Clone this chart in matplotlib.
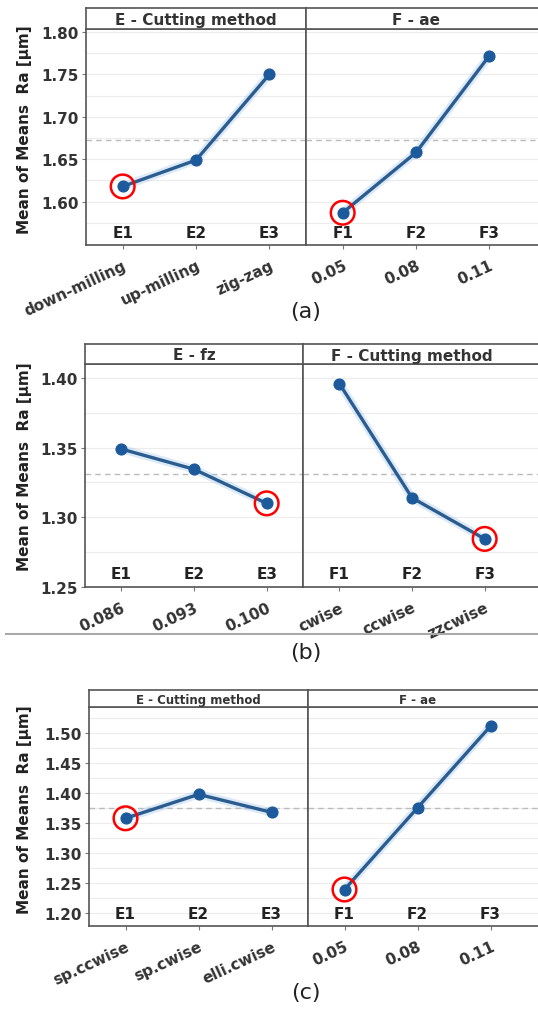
import numpy as np
import matplotlib
matplotlib.use("Agg")
import matplotlib.pyplot as plt
import matplotlib.transforms as mtransforms

plt.rcParams['font.family'] = ['DejaVu Sans']

W, H = 538, 1012

# ---- data ----
a_E_vals = [1.618, 1.649, 1.750]
a_F_vals = [1.587, 1.658, 1.772]
a_E_ticks = ["down-milling", "up-milling", "zig-zag"]
a_F_ticks = ["0.05", "0.08", "0.11"]
a_strips = ["E - Cutting method", "F - ae"]

b_E_vals = [1.349, 1.3345, 1.310]
b_F_vals = [1.396, 1.314, 1.2845]
b_E_ticks = ["0.086", "0.093", "0.100"]
b_F_ticks = ["cwise", "ccwise", "zzcwise"]
b_strips = ["E - fz", "F - Cutting method"]

c_E_vals = [1.358, 1.398, 1.368]
c_F_vals = [1.239, 1.3755, 1.512]
c_E_ticks = ["sp.ccwise", "sp.cwise", "elli.cwise"]
c_F_ticks = ["0.05", "0.08", "0.11"]
c_strips = ["E - Cutting method", "F - ae"]

E_levels = ["E1", "E2", "E3"]
F_levels = ["F1", "F2", "F3"]

LINE = "#2b5c8f"
DOT = "#1d5a9c"
TXT = "#333333"


def px(l, t, w, h):
    return [l / W, 1 - (t + h) / H, w / W, h / H]


def draw_group(fig, left, div, right, s_top, s_bot, bottom, ylim, yticks,
               e_vals, f_vals, e_ticks, f_ticks, strips, levels_y, strip_fs,
               ylab_y, cap, cap_y):
    unit = (div - left) / 3.0
    grand = np.mean(e_vals)
    specs = [(left, div, e_vals, e_ticks, E_levels, strips[0]),
             (div, right, f_vals, f_ticks, F_levels, strips[1])]
    for j, (x0, x1, vals, ticks, levels, title) in enumerate(specs):
        ax = fig.add_axes(px(x0, s_bot, x1 - x0, bottom - s_bot))
        xr = -0.5 + (x1 - x0) / unit
        ax.set_xlim(-0.5, xr)
        ax.set_ylim(*ylim)
        minor = np.arange(yticks[0] - 0.025, yticks[-1] + 0.03, 0.025)
        for yy in minor:
            ax.axhline(yy, color="#ececec", lw=0.8, zorder=0)
        ax.axhline(grand, color="#bbbbbb", lw=1.0, ls=(0, (4, 3)), zorder=1)
        x = np.arange(3)
        ax.plot(x, vals, color="#9cc3ec", lw=6, alpha=0.35, zorder=2,
                solid_capstyle="round")
        ax.plot(x, vals, color=LINE, lw=2.4, zorder=3)
        ax.scatter(x, vals, s=60, color=DOT, zorder=4)
        k = int(np.argmin(vals))
        ax.scatter([x[k]], [vals[k]], s=290, facecolors="none",
                   edgecolors="red", linewidths=1.8, zorder=5)
        trans = mtransforms.blended_transform_factory(ax.transData, ax.transAxes)
        for i, lv in enumerate(levels):
            ax.text(i, levels_y, lv, transform=trans, ha="center", va="center",
                    fontsize=11, fontweight="bold", color="#222222")
        ax.set_xticks(x)
        ax.set_xticklabels(ticks, rotation=25, ha="right", rotation_mode="anchor",
                           fontsize=11, fontweight="bold", color=TXT)
        ax.tick_params(axis="x", length=3, color="#777777", pad=6)
        if j == 0:
            ax.set_yticks(yticks)
            ax.set_yticklabels([f"{v:.2f}" for v in yticks], fontsize=11,
                               fontweight="bold", color=TXT)
            ax.tick_params(axis="y", length=3, color="#777777", pad=2)
        else:
            ax.set_yticks([])
            ax.spines["right"].set_visible(False)
        for sp in ax.spines.values():
            sp.set_color("#555555")
            sp.set_linewidth(1.2)

        sax = fig.add_axes(px(x0, s_top, x1 - x0, s_bot - s_top))
        sax.set_xlim(-0.5, xr)
        sax.set_ylim(0, 1)
        sax.set_xticks([])
        sax.set_yticks([])
        for sp in sax.spines.values():
            sp.set_color("#555555")
            sp.set_linewidth(1.2)
        if j == 1:
            sax.spines["right"].set_visible(False)
        sax.text(1, 0.45, title, ha="center", va="center", fontsize=strip_fs,
                 fontweight="bold", color=TXT)

    fig.text(25 / W, 1 - ylab_y / H, "Mean of Means  Ra [µm]", rotation=90,
             ha="center", va="center", fontsize=11, fontweight="bold",
             color="#222222")
    fig.text(306 / W, 1 - cap_y / H, cap, ha="center", va="center",
             fontsize=16, color="#222222")


fig = plt.figure(figsize=(W / 100, H / 100), dpi=100)

draw_group(fig, 86, 306, 548, 9, 30, 246, (1.549, 1.8035),
           [1.60, 1.65, 1.70, 1.75, 1.80], a_E_vals, a_F_vals,
           a_E_ticks, a_F_ticks, a_strips, 0.06, 11, 130, "(a)", 312)

draw_group(fig, 85, 303, 548, 345, 365, 588, (1.25, 1.41),
           [1.25, 1.30, 1.35, 1.40], b_E_vals, b_F_vals,
           b_E_ticks, b_F_ticks, b_strips, 0.06, 11, 467, "(b)", 653)

draw_group(fig, 89, 308, 548, 691, 708, 927, (1.178, 1.544),
           [1.20, 1.25, 1.30, 1.35, 1.40, 1.45, 1.50], c_E_vals, c_F_vals,
           c_E_ticks, c_F_ticks, c_strips, 0.055, 8.5, 810, "(c)", 993)

fig.add_artist(plt.Line2D([6 / W, 1.0], [1 - 635 / H, 1 - 635 / H],
                          color="#aaaaaa", lw=1.5))

fig.savefig("out.png", dpi=100)
